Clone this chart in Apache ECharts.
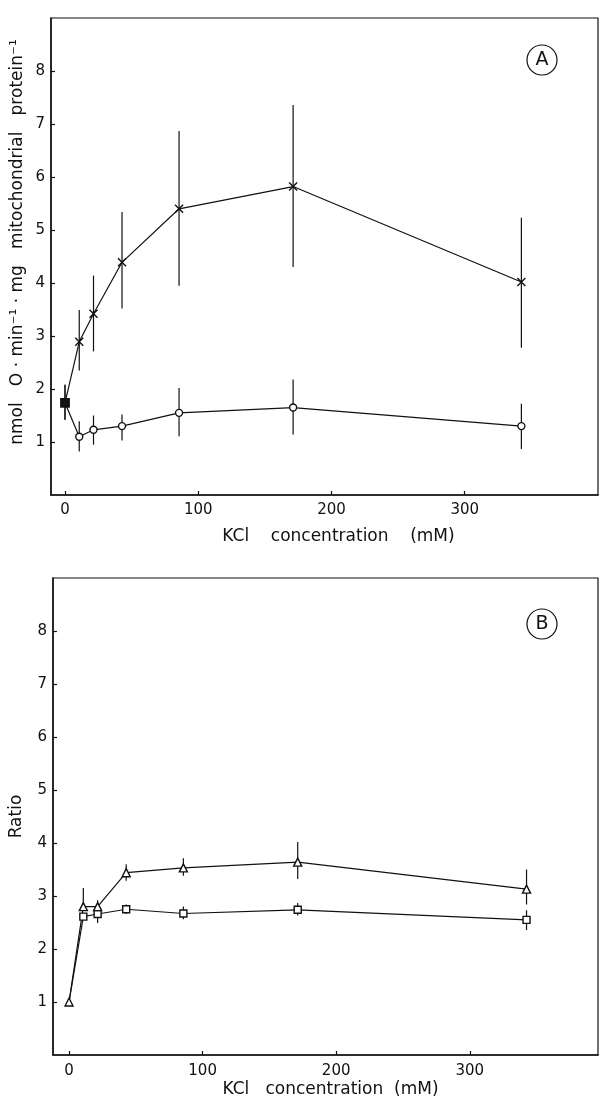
<!DOCTYPE html>
<html>
<head>
<meta charset="utf-8">
<script src="https://cdn.jsdelivr.net/npm/echarts@6/dist/echarts.min.js"></script>
<style>
html,body{margin:0;padding:0;background:#fff;}
#chart{width:600px;height:1101px;}
</style>
</head>
<body>
<div id="chart"></div>
<script>
// ---- data ----
const kclConc = [0, 10.7, 21.4, 42.8, 85.6, 171.2, 342.5];
// Panel A
const crossValues = [1.74, 2.89, 3.42, 4.39, 5.40, 5.82, 4.02];
const crossErrLow = [1.42, 2.35, 2.71, 3.52, 3.95, 4.30, 2.78];
const crossErrHigh = [2.08, 3.49, 4.14, 5.34, 6.87, 7.36, 5.23];
const circleValues = [1.74, 1.10, 1.23, 1.30, 1.55, 1.65, 1.30];
const circleErrLow = [1.42, 0.82, 0.95, 1.03, 1.11, 1.14, 0.87];
const circleErrHigh = [2.08, 1.39, 1.50, 1.52, 2.02, 2.18, 1.72];
// Panel B
const triangleValues = [1.00, 2.80, 2.80, 3.44, 3.53, 3.64, 3.13];
const triangleErrLow = [1.00, 2.75, 2.72, 3.29, 3.38, 3.32, 2.84];
const triangleErrHigh = [1.00, 3.15, 2.92, 3.60, 3.71, 4.02, 3.50];
const squareValues = [1.00, 2.61, 2.66, 2.75, 2.67, 2.74, 2.55];
const squareErrLow = [1.00, 2.55, 2.49, 2.66, 2.56, 2.63, 2.36];
const squareErrHigh = [1.00, 2.67, 2.80, 2.84, 2.80, 2.87, 2.73];
const xTickLabels = [0, 100, 200, 300];
const yTickLabels = [1, 2, 3, 4, 5, 6, 7, 8];
const yTitleA = 'nmol   O · min⁻¹ · mg   mitochondrial   protein⁻¹';
const yTitleB = 'Ratio';
const xTitleA = 'KCl    concentration    (mM)';
const xTitleB = 'KCl   concentration  (mM)';
const panelLabels = ['A', 'B'];

const FONT = 'DejaVu Sans';
const chart = echarts.init(document.getElementById('chart'), null, {renderer: 'canvas'});

function pairs(ys) { return kclConc.map((x, i) => [x, ys[i]]); }
function errs(lo, hi) { return kclConc.map((x, i) => [x, lo[i], hi[i]]); }

function errSeries(lo, hi, gi) {
  return {
    type: 'custom', xAxisIndex: gi, yAxisIndex: gi, z: 1,
    data: errs(lo, hi), encode: {x: 0, y: [1, 2]}, silent: true,
    renderItem: function (params, api) {
      const x = api.value(0);
      const p1 = api.coord([x, api.value(1)]);
      const p2 = api.coord([x, api.value(2)]);
      return {type: 'line', shape: {x1: p1[0], y1: p1[1], x2: p2[0], y2: p2[1]},
        style: {stroke: '#111', lineWidth: 1.2}};
    }
  };
}

function lineSeries(ys, gi, symbol, size, fill, firstSymbol) {
  const d = pairs(ys).map((p, i) => {
    if (i === 0 && firstSymbol) return {value: p, symbol: firstSymbol.symbol, symbolSize: firstSymbol.size,
      itemStyle: firstSymbol.itemStyle};
    return {value: p};
  });
  return {
    type: 'line', xAxisIndex: gi, yAxisIndex: gi, z: 3, silent: true,
    data: d, symbol: symbol, symbolSize: size,
    lineStyle: {color: '#111', width: 1.2},
    itemStyle: {color: fill, borderColor: '#111', borderWidth: 1.4},
    animation: false
  };
}

function xAxis(gi, min, max) {
  return {
    type: 'value', gridIndex: gi, min: min, max: max,
    splitLine: {show: false},
    axisLine: {show: true, onZero: false, lineStyle: {color: '#111', width: 1.5}},
    axisTick: {show: true, inside: true, length: 4, customValues: xTickLabels, lineStyle: {color: '#111', width: 1.2}},
    axisLabel: {customValues: xTickLabels, color: '#111', fontFamily: FONT, fontSize: 15, margin: gi === 0 ? 8 : 9},
    name: gi === 0 ? xTitleA : xTitleB, nameLocation: 'middle', nameGap: gi === 0 ? 33 : 26,
    nameTextStyle: {color: '#111', fontFamily: FONT, fontSize: 17, padding: gi === 0 ? [0, 0, 0, 28] : [0, 0, 0, 10]}
  };
}

function yAxis(gi, name, gap) {
  return {
    type: 'value', gridIndex: gi, min: 0, max: 9,
    splitLine: {show: false},
    axisLine: {show: true, onZero: false, lineStyle: {color: '#111', width: 1.5}},
    axisTick: {show: true, inside: true, length: 4, customValues: yTickLabels, lineStyle: {color: '#111', width: 1.2}},
    axisLabel: {customValues: yTickLabels, color: '#111', fontFamily: FONT, fontSize: 15, margin: 6},
    name: name, nameLocation: 'middle', nameGap: gap, nameRotate: 90,
    nameTextStyle: {color: '#111', fontFamily: FONT, fontSize: 17}
  };
}

const crossPath = 'path://M0,0L10,10M10,0L0,10';

const option = {
  backgroundColor: '#fff',
  animation: false,
  grid: [
    {left: 51, right: 2, top: 18, height: 477, show: true, borderColor: '#111', borderWidth: 1.2, backgroundColor: 'transparent'},
    {left: 52, right: 2, top: 578, height: 477, show: true, borderColor: '#111', borderWidth: 1.2, backgroundColor: 'transparent'}
  ],
  xAxis: [xAxis(0, -10.5, 400), xAxis(1, -12, 396)],
  yAxis: [yAxis(0, '', 30), yAxis(1, yTitleB, 28)],
  graphic: [
    {type: 'text', x: 18, y: 242, rotation: Math.PI / 2,
      style: {text: yTitleA, fill: '#111', font: '17px ' + FONT, align: 'center', verticalAlign: 'middle'}},
    {type: 'circle', shape: {cx: 542, cy: 60, r: 15}, style: {fill: 'none', stroke: '#111', lineWidth: 1.2}},
    {type: 'text', x: 542, y: 60, style: {text: panelLabels[0], fill: '#111', font: '19px ' + FONT, align: 'center', verticalAlign: 'middle'}},
    {type: 'circle', shape: {cx: 542, cy: 624, r: 15}, style: {fill: 'none', stroke: '#111', lineWidth: 1.2}},
    {type: 'text', x: 542, y: 624, style: {text: panelLabels[1], fill: '#111', font: '19px ' + FONT, align: 'center', verticalAlign: 'middle'}}
  ],
  series: [
    errSeries(crossErrLow, crossErrHigh, 0),
    errSeries(circleErrLow, circleErrHigh, 0),
    lineSeries(circleValues, 0, 'circle', 7, '#fff', {symbol: 'rect', size: 8, itemStyle: {color: '#111'}}),
    lineSeries(crossValues, 0, crossPath, 8, '#111', {symbol: 'rect', size: 8, itemStyle: {color: '#111'}}),
    errSeries(triangleErrLow, triangleErrHigh, 1),
    errSeries(squareErrLow, squareErrHigh, 1),
    lineSeries(squareValues, 1, 'rect', 7, '#fff', {symbol: 'none', size: 0}),
    lineSeries(triangleValues, 1, 'triangle', 8, '#fff', null)
  ]
};
chart.setOption(option);
</script>
</body>
</html>
